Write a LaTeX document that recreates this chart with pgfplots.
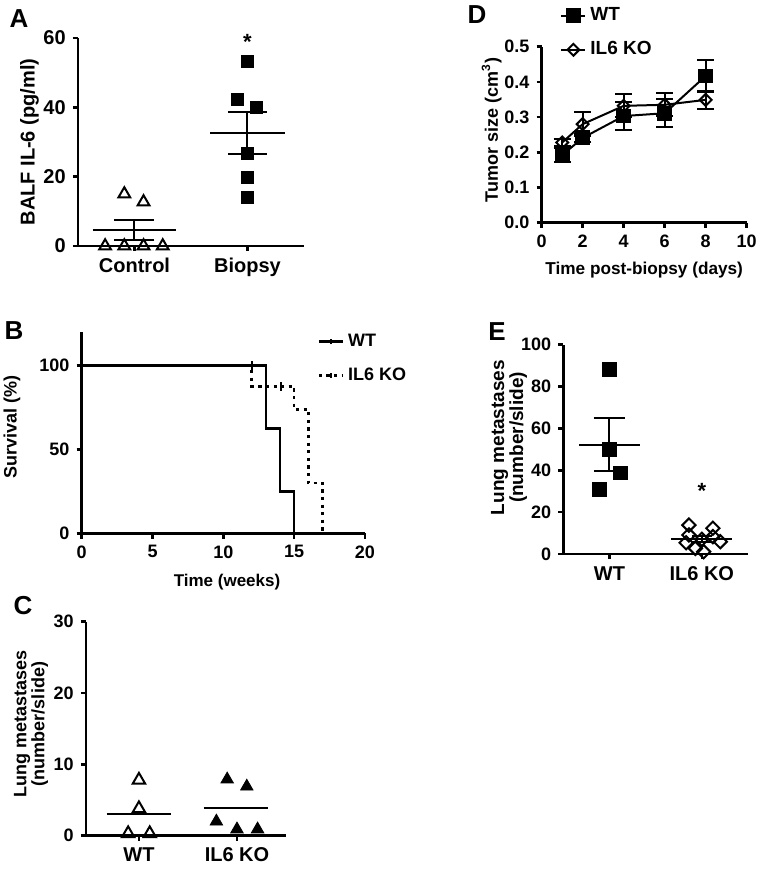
\documentclass[border=0pt]{standalone}
\usepackage{fontspec}
\setmainfont{Liberation Sans}
\usepackage{pgfplots}
\pgfplotsset{compat=1.18}
\newcommand\fs[1]{\bfseries\fontsize{#1}{#1}\selectfont}
\pgfplotsset{gp/.style={
  scale only axis, anchor=south west,
  axis x line*=bottom, axis y line*=left,
  axis line style={line width=1.3pt,-},
  major tick style={line width=1.3pt, black},
  tick align=outside, major tick length=2.6pt,
  /pgf/number format/assume math mode=true,
  ticklabel style={font=\fs{9}},
  label style={font=\fs{9}},
  clip=false,
},
meanline/.style={black, line width=1pt, forget plot},
sem/.style={black, no marks, line width=1pt, forget plot,
  error bars/.cd, y dir=both, y explicit,
  error bar style={line width=1pt},
  error mark options={rotate=90, line width=1pt, mark size=#1}},
}
\begin{document}
\begin{tikzpicture}
\path[use as bounding box] (0,0) rectangle (382pt,-436.5pt);
% panel letters
\node[font=\fs{13}] at (9.5pt,-9.25pt) {A};
\node[font=\fs{13}] at (238.5pt,-7.5pt) {D};
\node[font=\fs{13}] at (7pt,-165.5pt) {B};
\node[font=\fs{13}] at (248.5pt,-166pt) {E};
\node[font=\fs{13}] at (11.5pt,-303pt) {C};

% ---------- A ----------
\begin{axis}[gp, at={(39pt,-123pt)}, width=113pt, height=104pt,
  xmin=0.5, xmax=2.5, ymin=0, ymax=60,
  xtick={1,2}, xticklabels={Control,Biopsy}, ytick={0,20,40,60},
  ticklabel style={font=\fs{10}},
  ylabel={BALF IL-6 (pg/ml)},
  ylabel style={at={(axis description cs:-0.215,0.5)}, anchor=center, font=\fs{10}}]
\addplot[only marks, mark=triangle, mark size=3.4pt, mark options={line width=1pt, fill=white}]
  coordinates {(0.91,15) (1.08,12.7) (0.74,0) (0.91,0) (1.08,0) (1.25,0)};
\addplot[meanline] coordinates {(0.63,4.6) (1.37,4.6)};
\addplot[sem=10pt] coordinates {(1,4.6) +- (0,3.0)};
\addplot[only marks, mark=square*, mark size=3pt]
  coordinates {(2,53.2) (1.91,42.3) (2.08,39.9) (2,26.8) (2,19.7) (2,14)};
\addplot[meanline] coordinates {(1.67,32.6) (2.33,32.6)};
\addplot[sem=9.75pt] coordinates {(2,32.6) +- (0,6.1)};
\node[font=\fs{11}] at (axis cs:2,59) {*};
\end{axis}

% ---------- D ----------
\begin{axis}[gp, at={(270.85pt,-111.35pt)}, width=102.5pt, height=88pt,
  xmin=0, xmax=10, ymin=0, ymax=0.5,
  xtick={0,2,4,6,8,10}, ytick={0,0.1,0.2,0.3,0.4,0.5},
  y tick label style={/pgf/number format/fixed, /pgf/number format/fixed zerofill, /pgf/number format/precision=1},
  xlabel={Time post-biopsy (days)},
  xlabel style={at={(axis description cs:0.5,-0.27)}, anchor=center, font=\fs{8.6}},
  ylabel={Tumor size (cm\textsuperscript{3})},
  ylabel style={at={(axis description cs:-0.244,0.527)}, anchor=center, font=\fs{9}},
  legend image code/.code={\draw[mark repeat=2,mark phase=2,#1] plot coordinates {(0pt,0pt) (6pt,0pt) (12pt,0pt)};},
  legend style={at={(axis description cs:0.06,1.27)}, anchor=north west, draw=none, fill=none,
    font=\fs{9.5}, row sep=5pt, cells={anchor=west}}]
\addplot[black, line width=1pt, mark=square*, mark size=3.2pt,
  error bars/.cd, y dir=both, y explicit, error bar style={line width=1pt},
  error mark options={rotate=90, line width=1pt, mark size=4.25pt}]
  coordinates {(1,0.192) +- (0,0.02) (2,0.241) +- (0,0.012) (4,0.303) +- (0,0.04) (6,0.311) +- (0,0.04) (8,0.417) +- (0,0.045)};
\addplot[black, line width=1pt, mark=square, mark size=2.1pt, mark options={rotate=45, fill=white, solid},
  error bars/.cd, y dir=both, y explicit, error bar style={line width=1pt},
  error mark options={rotate=90, line width=1pt, mark size=4.25pt}]
  coordinates {(1,0.228) +- (0,0.01) (2,0.280) +- (0,0.035) (4,0.332) +- (0,0.033) (6,0.335) +- (0,0.033) (8,0.349) +- (0,0.025)};
\legend{WT, IL6 KO}
\end{axis}

% ---------- B ----------
\begin{axis}[gp, at={(40.85pt,-266.65pt)}, width=141.65pt, height=100.8pt,
  xmin=0, xmax=20, ymin=0, ymax=120,
  xtick={0,5,10,15,20}, ytick={0,50,100},
  xlabel={Time (weeks)},
  xlabel style={at={(axis description cs:0.513,-0.242)}, anchor=center, font=\fs{8.5}},
  ylabel={Survival (\%)},
  ylabel style={at={(axis description cs:-0.246,0.529)}, anchor=center, font=\fs{9}},
  legend image code/.code={\draw[#1] (0pt,0pt) -- (12pt,0pt); \draw[solid, line width=0.8pt] (6pt,-1.3pt) -- (6pt,1.3pt);},
  legend style={at={(axis description cs:0.81,1.03)}, anchor=north west, draw=none, fill=none,
    font=\fs{9}, row sep=5pt, cells={anchor=west}}]
\addplot[black, const plot mark left, line width=1.3pt] coordinates {(0,100) (13,62.5) (14,25) (15,0)};
\addplot[black, const plot mark left, line width=1.3pt, dash pattern=on 1.6pt off 2.2pt]
  coordinates {(0,100) (12,87.5) (15,73.7) (16,30) (17,0)};
\addplot[black, only marks, mark=|, mark size=2.2pt, line width=1pt, forget plot] coordinates {(12,100) (14.1,87.5)};
\legend{WT, IL6 KO}
\end{axis}

% ---------- E ----------
\begin{axis}[gp, at={(281.65pt,-277pt)}, width=92.35pt, height=104.75pt,
  xmin=0.5, xmax=2.5, ymin=0, ymax=100,
  xtick={1,2}, xticklabels={WT,IL6 KO}, ytick={0,20,40,60,80,100},
  x tick label style={font=\fs{10}},
  ylabel={Lung metastases\\(number/slide)},
  ylabel style={align=center, at={(axis description cs:-0.294,0.556)}, anchor=center, font=\fs{9.5}}]
\addplot[only marks, mark=square*, mark size=3.4pt]
  coordinates {(1,88) (1,50) (1.12,38.8) (0.89,30.9)};
\addplot[meanline] coordinates {(0.67,52.2) (1.33,52.2)};
\addplot[sem=7.9pt] coordinates {(1,52.2) +- (0,12.6)};
\addplot[only marks, mark=square, mark size=2.35pt, mark options={rotate=45, line width=1pt, fill=white}]
  coordinates {(1.86,13.8) (2.12,12.3) (1.86,9.1) (2.12,8.3) (1.83,5.4) (2.2,5.9) (1.93,2.7) (2.02,1.1) (2.0,7.0)};
\addplot[meanline] coordinates {(1.67,7.3) (2.33,7.3)};
\addplot[sem=5pt] coordinates {(2,7.3) +- (0,1.4)};
\node[font=\fs{11}] at (axis cs:2,30) {*};
\end{axis}

% ---------- C ----------
\begin{axis}[gp, at={(43pt,-417.85pt)}, width=100pt, height=107pt,
  xmin=0.46, xmax=2.5, ymin=0, ymax=30,
  xtick={1,2}, xticklabels={WT,IL6 KO}, ytick={0,10,20,30},
  x tick label style={font=\fs{10}},
  ylabel={Lung metastases\\(number/slide)},
  ylabel style={align=center, at={(axis description cs:-0.275,0.522)}, anchor=center, font=\fs{9}}]
\addplot[only marks, mark=triangle, mark size=3.6pt, mark options={line width=1pt, fill=white}]
  coordinates {(1,7.8) (1,3.8) (0.89,0.3) (1.11,0.3)};
\addplot[meanline] coordinates {(0.67,3.0) (1.33,3.0)};
\addplot[only marks, mark=triangle*, mark size=3.6pt]
  coordinates {(1.9,7.9) (2.1,6.9) (1.79,2.0) (2.0,0.9) (2.21,0.9)};
\addplot[meanline] coordinates {(1.66,3.84) (2.32,3.84)};
\end{axis}
\end{tikzpicture}
\end{document}
